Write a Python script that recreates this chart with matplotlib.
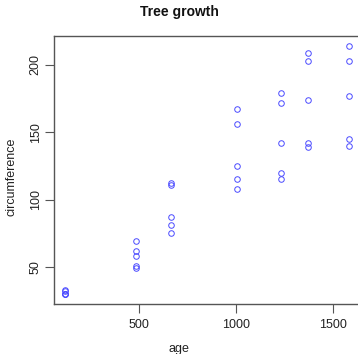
import matplotlib
matplotlib.use("Agg")
import matplotlib.pyplot as plt

plt.rcParams['font.family'] = ['Liberation Sans', 'DejaVu Sans']

# Orange trees: age (days) and trunk circumference (mm), 5 trees
age = [118, 484, 664, 1004, 1231, 1372, 1582]
tree1 = [30, 58, 87, 115, 120, 142, 145]
tree2 = [33, 69, 111, 156, 172, 203, 203]
tree3 = [30, 51, 75, 108, 115, 139, 140]
tree4 = [32, 62, 112, 167, 179, 209, 214]
tree5 = [30, 49, 81, 125, 142, 174, 177]
trees = [tree1, tree2, tree3, tree4, tree5]

xs = age * len(trees)
ys = [c for t in trees for c in t]

fig = plt.figure(figsize=(3.58, 3.54), dpi=100)
ax = fig.add_axes([53.5 / 358, 50 / 354, 306.5 / 358, 268 / 354])

ax.plot(xs, ys, 'o', mfc='none', mec='#4a4aff', ms=4.0, mew=0.7, clip_on=False)

# R-style 4% padding
x0, x1 = min(xs), max(xs)
y0, y1 = min(ys), max(ys)
ax.set_xlim(x0 - 0.04 * (x1 - x0), x1 + 0.04 * (x1 - x0))
ax.set_ylim(y0 - 0.04 * (y1 - y0), y1 + 0.04 * (y1 - y0))

ax.set_xticks([500, 1000, 1500])
ax.set_yticks([50, 100, 150, 200])
for s in ax.spines.values():
    s.set_color('#555555')
    s.set_linewidth(1.0)
ax.tick_params(colors='#555555', labelcolor='#222222', length=6.5, width=0.8,
               labelsize=9)
ax.tick_params(axis='x', pad=4)
ax.tick_params(axis='y', pad=2)
for lab in ax.get_yticklabels():
    lab.set_rotation(90)
    lab.set_va('center')

fig.text(0.5, 1 - 12 / 354, 'Tree growth', ha='center', va='center',
         fontsize=10, fontweight='bold', color='#111111')
fig.text(0.5, 1 - 349 / 354, 'age', ha='center', va='center', fontsize=9,
         color='#222222')
fig.text(12 / 358, 0.5, 'circumference', ha='center', va='center',
         rotation=90, fontsize=9, color='#222222')

fig.savefig('out.png', dpi=100)
